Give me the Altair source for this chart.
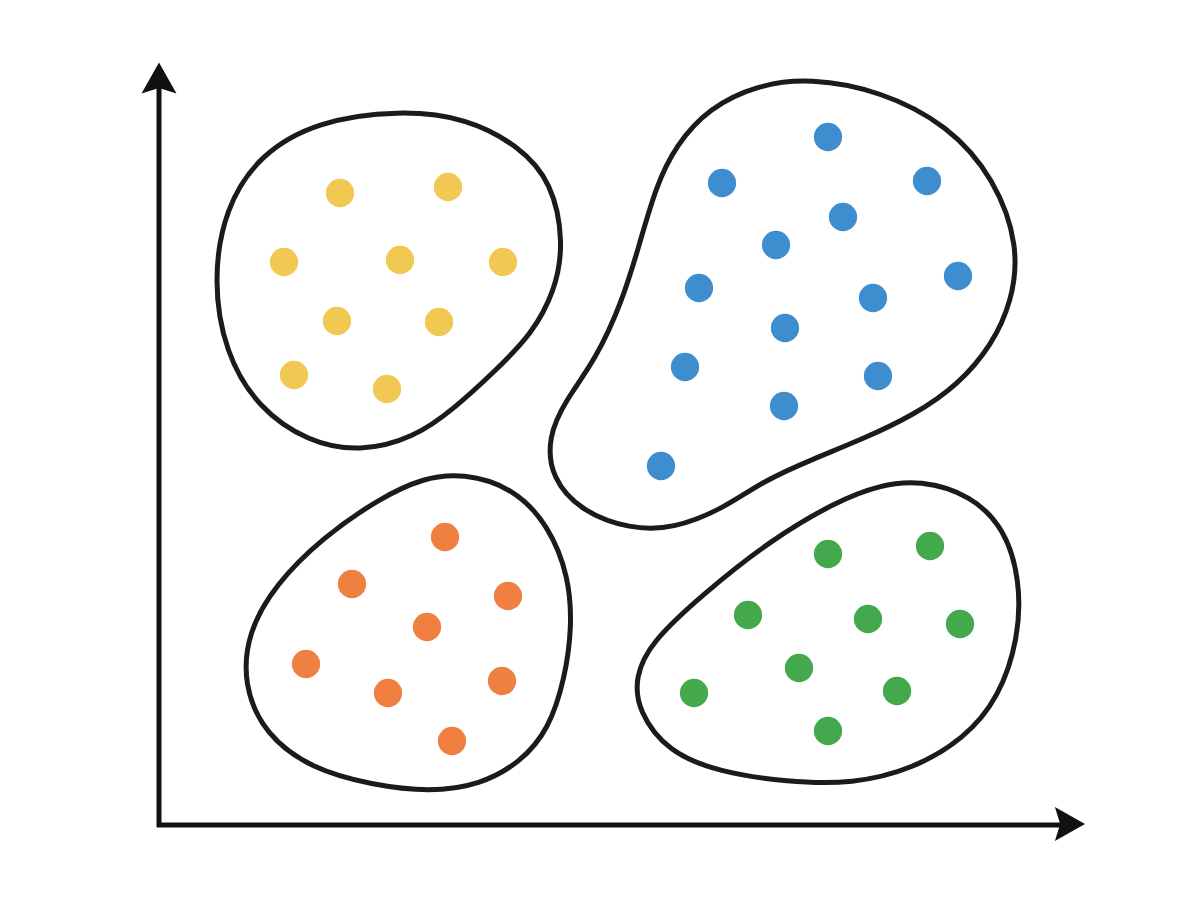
import altair as alt
import pandas as pd

# ---- cluster points (pixel-like units) ----
yellow_x = [340, 448, 284, 400, 503, 337, 439, 294, 387]
yellow_y = [193, 187, 262, 260, 262, 321, 322, 375, 389]

blue_x = [828, 722, 927, 843, 776, 958, 699, 873, 785, 685, 878, 784, 661]
blue_y = [137, 183, 181, 217, 245, 276, 288, 298, 328, 367, 376, 406, 466]

orange_x = [445, 352, 508, 427, 306, 502, 388, 452]
orange_y = [537, 584, 596, 627, 664, 681, 693, 741]

green_x = [828, 930, 748, 868, 960, 799, 694, 897, 828]
green_y = [554, 546, 615, 619, 624, 668, 693, 691, 731]

# ---- outline control points for each cluster ----
yellow_ox = [400, 467, 519, 552, 564, 555, 532, 495, 455, 414, 360, 308, 258, 225, 213, 225, 259, 317]
yellow_oy = [110, 118, 146, 182, 243, 291, 334, 371, 408, 438, 452, 442, 408, 353, 280, 208, 155, 121]

blue_ox = [810, 881, 948, 995, 1019, 1012, 992, 958, 914, 863, 813, 763, 723, 673, 630, 582, 551, 548, 565, 596, 622, 639, 656, 676, 709, 757]
blue_oy = [78, 91, 125, 179, 247, 301, 345, 385, 415, 439, 459, 481, 509, 529, 529, 512, 478, 437, 401, 359, 302, 246, 186, 145, 108, 85]

orange_ox = [463, 514, 549, 569, 572, 565, 549, 521, 480, 430, 372, 312, 265, 243, 248, 275, 322, 380, 423]
orange_oy = [473, 488, 526, 577, 627, 678, 729, 762, 785, 792, 785, 769, 735, 684, 632, 585, 538, 498, 478]

green_ox = [920, 971, 1005, 1020, 1019, 999, 964, 913, 853, 787, 719, 668, 638, 635, 651, 702, 769, 837, 880]
green_oy = [480, 495, 529, 580, 637, 698, 739, 769, 784, 782, 772, 752, 711, 677, 642, 595, 541, 501, 485]

clusters = ["yellow", "blue", "orange", "green"]
colors = ["#F1C851", "#3E8ECF", "#EF8042", "#44A84D"]

# ---- axes (lines and arrow heads) ----
axis_x1 = [159, 157]
axis_y1 = [85, 825]
axis_x2 = [159, 1063]
axis_y2 = [827, 825]
head_x = [159, 1068]
head_y = [80, 824]
head_dir = ["up", "right"]

pts = pd.concat([
    pd.DataFrame({"cluster": c, "x": xs, "y": ys})
    for c, xs, ys in [("yellow", yellow_x, yellow_y), ("blue", blue_x, blue_y),
                      ("orange", orange_x, orange_y), ("green", green_x, green_y)]
])
outl = pd.concat([
    pd.DataFrame({"cluster": c, "x": xs, "y": ys, "o": list(range(len(xs)))})
    for c, xs, ys in [("yellow", yellow_ox, yellow_oy), ("blue", blue_ox, blue_oy),
                      ("orange", orange_ox, orange_oy), ("green", green_ox, green_oy)]
])
axes = pd.DataFrame({"x": axis_x1, "y": axis_y1, "x2": axis_x2, "y2": axis_y2})
heads = pd.DataFrame({"x": head_x, "y": head_y, "d": head_dir})

xs = alt.Scale(domain=[8, 1192], nice=False, zero=False)
ys = alt.Scale(domain=[8, 892], nice=False, zero=False, reverse=True)
X = alt.X("x:Q", scale=xs, axis=None)
Y = alt.Y("y:Q", scale=ys, axis=None)

outline = alt.Chart(outl).mark_line(
    interpolate="basis-closed", stroke="#1b1b1b", strokeWidth=5
).encode(x=X, y=Y, detail="cluster:N", order="o:Q")

dots = alt.Chart(pts).mark_point(filled=True, opacity=1, size=800, shape="circle").encode(
    x=X, y=Y,
    color=alt.Color("cluster:N", scale=alt.Scale(domain=clusters, range=colors), legend=None),
)

axis_lines = alt.Chart(axes).mark_rule(color="#111111", strokeWidth=5).encode(
    x=X, y=Y, x2="x2:Q", y2="y2:Q"
)

up_head = alt.Chart(heads[heads.d == "up"]).mark_point(
    filled=True, opacity=1, color="#111111", size=1225,
    shape="M0,-1L1,0.77L0,0.46L-1,0.77Z"
).encode(x=X, y=Y)
right_head = alt.Chart(heads[heads.d == "right"]).mark_point(
    filled=True, opacity=1, color="#111111", size=1156,
    shape="M1,0L-0.77,1L-0.46,0L-0.77,-1Z"
).encode(x=X, y=Y)

chart = alt.layer(outline, dots, axis_lines, up_head, right_head).properties(
    width=1184, height=884, padding=0, autosize="none", background="white"
).configure_view(strokeWidth=0)

chart.save("out.html", embed_options={"renderer": "svg", "actions": False})
